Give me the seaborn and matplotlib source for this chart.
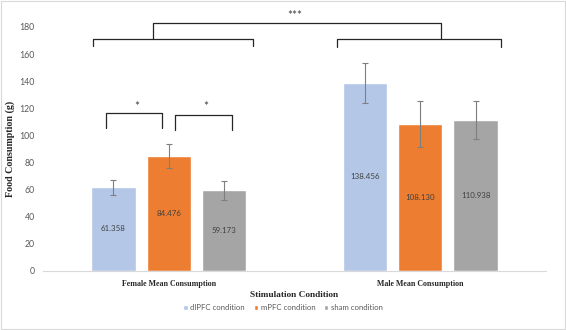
import matplotlib
matplotlib.use("Agg")
import matplotlib.pyplot as plt
import seaborn as sns
import pandas as pd
from matplotlib.patches import Rectangle

# ---- data ----
groups = ["Female Mean Consumption", "Male Mean Consumption"]
conditions = ["dlPFC condition", "mPFC condition", "sham condition"]
dlpfc_vals = [61.358, 138.456]
mpfc_vals = [84.476, 108.130]
sham_vals = [59.173, 110.938]
dlpfc_err = [5.4, 14.8]
mpfc_err = [9.0, 17.0]
sham_err = [7.0, 14.0]
value_labels = {"dlPFC condition": ["61.358", "138.456"],
                "mPFC condition": ["84.476", "108.130"],
                "sham condition": ["59.173", "110.938"]}
y_ticks = [0, 20, 40, 60, 80, 100, 120, 140, 160, 180]

colors = ["#B4C7E7", "#ED7D31", "#A5A5A5"]

rows = []
for cond, vals, errs in zip(conditions, [dlpfc_vals, mpfc_vals, sham_vals],
                            [dlpfc_err, mpfc_err, sham_err]):
    for g, v, e in zip(groups, vals, errs):
        rows.append({"group": g, "condition": cond, "value": v, "err": e})
df = pd.DataFrame(rows)

sns.set_theme(style="white")
plt.rcParams["font.family"] = ["Lato", "DejaVu Sans"]

fig = plt.figure(figsize=(5.66, 3.30), dpi=100)
ax = fig.add_axes([43/566, 1-270.5/330, (546-43)/566, (270.5-27)/330])

sns.barplot(data=df, x="group", y="value", hue="condition", order=groups,
            hue_order=conditions, palette=colors, width=0.66, gap=0.2,
            errorbar=None, ax=ax, saturation=1)

# error bars and value labels
for i, cond in enumerate(conditions):
    cont = ax.containers[i]
    sub = df[df.condition == cond].set_index("group").loc[groups]
    for j, bar in enumerate(cont):
        xc = bar.get_x() + bar.get_width() / 2
        h = bar.get_height()
        ax.errorbar(xc, h, yerr=sub["err"].iloc[j], color="#7F7F7F",
                    elinewidth=0.8, capsize=2.2, capthick=0.8, zorder=5)
        ax.text(xc, h / 2, value_labels[cond][j], ha="center", va="center",
                fontsize=5.7, color="#404040")

ax.set_ylim(0, 180)
ax.set_xlim(-0.5, 1.5)
ax.set_yticks(y_ticks)
ax.tick_params(axis="y", length=0, labelsize=6.3, labelcolor="#595959", pad=6)
ax.tick_params(axis="x", length=0, pad=7)
for lab in ax.get_xticklabels():
    lab.set_fontfamily("Liberation Serif")
    lab.set_fontweight("bold")
    lab.set_fontsize(5.7)
    lab.set_color("#262626")
for s in ["top", "right", "left"]:
    ax.spines[s].set_visible(False)
ax.spines["bottom"].set_color("#D9D9D9")
ax.spines["bottom"].set_linewidth(0.8)

ax.set_xlabel("Stimulation Condition", fontfamily="Liberation Serif",
              fontweight="bold", fontsize=6.7, color="#262626", labelpad=2)
ax.set_ylabel("Food Consumption (g)", fontfamily="Liberation Serif",
              fontweight="bold", fontsize=7.2, color="#262626")
ax.yaxis.set_label_coords((15 - 43) / 503, 0.5)

# significance brackets
lc = "#262626"
kw = dict(color=lc, lw=0.9, clip_on=False, solid_joinstyle="round",
          solid_capstyle="round")
# small brackets
ax.plot([-0.248, -0.248, -0.027, -0.027], [105.0, 116.4, 116.4, 105.0], **kw)
ax.plot([0.023, 0.023, 0.252, 0.252], [103.6, 114.7, 114.7, 103.6], **kw)
ax.text(-0.126, 121.5, "*", ha="center", va="center", fontsize=8.5, color="#404040")
ax.text(0.147, 121.5, "*", ha="center", va="center", fontsize=8.5, color="#404040")
# big brackets
ax.plot([-0.303, -0.303, 0.335, 0.335], [166.3, 171.4, 171.4, 166.3], **kw)
ax.plot([0.669, 0.669, 1.323, 1.323], [165.5, 171.4, 171.4, 165.5], **kw)
ax.plot([-0.064, -0.064, 1.084, 1.084], [171.4, 182.6, 182.6, 171.4], **kw)
ax.text(0.502, 188.5, "***", ha="center", va="center", fontsize=8.5, color="#404040")

# legend
sns.move_legend(ax, "center", bbox_to_anchor=(0.5, 1-308/330),
                bbox_transform=fig.transFigure, ncol=3, frameon=False,
                title=None, fontsize=5.6, handlelength=0.6, handleheight=0.6,
                handletextpad=0.3, columnspacing=1.1)
for t in ax.get_legend().get_texts():
    t.set_color("#595959")

# chart border
fig.patches.append(Rectangle((0.002, 0.003), 0.996, 0.994, transform=fig.transFigure,
                             fill=False, edgecolor="#D9D9D9", lw=0.8))

fig.savefig("out.png", dpi=100)
